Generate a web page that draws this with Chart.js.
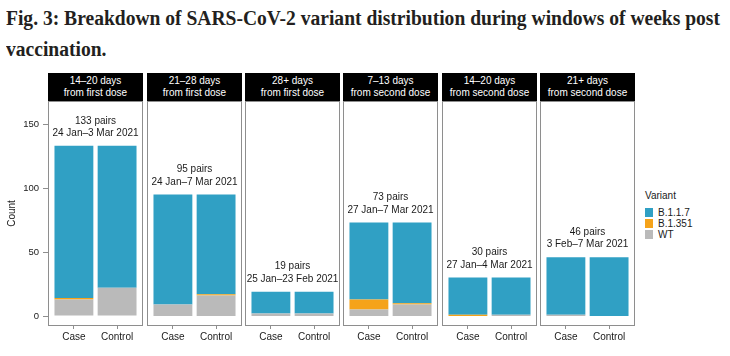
<!DOCTYPE html>
<html><head><meta charset="utf-8">
<script src="https://cdn.jsdelivr.net/npm/chart.js@4"></script>
<style>
body{margin:0;background:#fff;width:730px;height:356px;overflow:hidden;position:relative;font-family:"Liberation Sans",Arial,sans-serif;color:#1a1a1a;}
#title{position:absolute;left:6px;top:3px;font-weight:bold;font-size:20px;line-height:31px;font-family:"Liberation Serif",serif;color:#231f20;white-space:nowrap;transform-origin:0 0;}
.strip{position:absolute;top:73px;height:28px;background:#000;color:#fff;font-size:10px;line-height:12px;text-align:center;box-sizing:border-box;padding-top:2px;}
canvas{position:absolute;top:101px;}
#legend{position:absolute;left:645px;top:190px;font-size:10px;line-height:12px;color:#1a1a1a;}
.li{position:relative;height:11px;line-height:11px;padding-left:13px;}
.sw{position:absolute;left:0;top:1px;width:8px;height:9px;}
</style></head><body>
<div id="title"><span id="t1">Fig. 3: Breakdown of SARS-CoV-2 variant distribution during windows of weeks post</span><br>vaccination.</div>
<div id="legend"><div style="margin-bottom:5px">Variant</div></div>
<script>
const facetLine1 = ['14–20 days','21–28 days','28+ days','7–13 days','14–20 days','21+ days'];
const facetLine2 = ['from first dose','from first dose','from first dose','from second dose','from second dose','from second dose'];
const pairLabels = ['133 pairs','95 pairs','19 pairs','73 pairs','30 pairs','46 pairs'];
const dateLabels = ['24 Jan–3 Mar 2021','24 Jan–7 Mar 2021','25 Jan–23 Feb 2021','27 Jan–7 Mar 2021','27 Jan–4 Mar 2021','3 Feb–7 Mar 2021'];
const groups = ['Case','Control'];
// per facet: [Case, Control]
const wt    = [[13,22],[9,16],[2,2],[5,9],[0,1],[1,0]];
const b1351 = [[1,0],[0,1],[0,0],[8,1],[1,0],[0,0]];
const b117  = [[119,111],[86,78],[17,17],[60,63],[29,29],[45,46]];
const variantNames = ['B.1.1.7','B.1.351','WT'];
const yTicks = [0,50,100,150];

const colors = {'B.1.1.7':'#30a0c4','B.1.351':'#f5a31a','WT':'#bababa'};
const FONT = '"Liberation Sans", Arial, sans-serif';
const panelLeft = [48,147,245,343,442,540];
const panelW = 95;

// title fit
const t1 = document.getElementById('t1');
const w = t1.getBoundingClientRect().width;
document.getElementById('title').style.transform = 'scaleX(' + (714 / w) + ')';

// legend
const leg = document.getElementById('legend');
variantNames.forEach(n => {
  const d = document.createElement('div'); d.className = 'li';
  d.innerHTML = '<span class="sw" style="background:' + colors[n] + '"></span>' + n;
  leg.appendChild(d);
});

const frame = {
  id: 'frame',
  afterDatasetsDraw(chart, args, opts) {
    const {ctx, chartArea: a, scales} = chart;
    ctx.save();
    ctx.strokeStyle = '#8e8e8e'; ctx.lineWidth = 1;
    ctx.strokeRect(a.left + 0.5, a.top + 0.5, a.right - a.left - 1, a.bottom - a.top - 1);
    const k = opts.k;
    const total = Math.max(wt[k][0] + b1351[k][0] + b117[k][0], wt[k][1] + b1351[k][1] + b117[k][1]);
    const x = scales.x.getPixelForValue(1.5);
    const y = scales.y.getPixelForValue(total);
    ctx.fillStyle = '#1a1a1a';
    ctx.font = '10px ' + FONT;
    ctx.textAlign = 'center'; ctx.textBaseline = 'middle';
    ctx.fillText(pairLabels[k], x, y - 25);
    ctx.fillText(dateLabels[k], x, y - 12.6);
    ctx.restore();
  }
};

for (let k = 0; k < 6; k++) {
  const strip = document.createElement('div');
  strip.className = 'strip';
  strip.style.left = panelLeft[k] + 'px';
  strip.style.width = panelW + 'px';
  strip.innerHTML = facetLine1[k] + '<br>' + facetLine2[k];
  document.body.appendChild(strip);

  const first = k === 0;
  const cv = document.createElement('canvas');
  const cw = first ? panelLeft[0] + panelW : panelW;
  cv.width = cw; cv.height = 255;
  cv.style.left = (first ? 0 : panelLeft[k]) + 'px';
  cv.style.width = cw + 'px'; cv.style.height = '255px';
  document.body.appendChild(cv);

  const mk = (name, arr) => ({
    label: name,
    data: groups.map((g, i) => ({x: i + 1, y: arr[k][i]})),
    backgroundColor: colors[name],
    borderWidth: 0,
    barPercentage: 0.9,
    categoryPercentage: 1
  });

  new Chart(cv, {
    type: 'bar',
    data: { datasets: [mk('WT', wt), mk('B.1.351', b1351), mk('B.1.1.7', b117)] },
    options: {
      responsive: false, animation: false,
      layout: { padding: 0 },
      plugins: { legend: {display: false}, tooltip: {enabled: false}, frame: {k} },
      scales: {
        x: {
          type: 'linear', stacked: true, min: 0.4, max: 2.6, offset: false,
          afterBuildTicks: s => { s.ticks = [{value: 1}, {value: 2}]; },
          afterFit: s => { s.height = 30; s.paddingLeft = 0; s.paddingRight = 0; },
          grid: { drawOnChartArea: false, tickLength: 3, color: '#8e8e8e', offset: false },
          border: { display: false },
          ticks: { callback: v => groups[v - 1], font: {size: 10, family: FONT}, color: '#1a1a1a', padding: 2, maxRotation: 0, autoSkip: false }
        },
        y: {
          display: first, stacked: true, min: -7.8, max: 168,
          afterBuildTicks: s => { s.ticks = yTicks.map(v => ({value: v})); },
          afterFit: s => { s.width = first ? panelLeft[0] : 0; s.paddingTop = 0; s.paddingBottom = 0; },
          grid: { drawOnChartArea: false, tickLength: 5, color: '#8e8e8e' },
          border: { display: false },
          title: { display: true, text: 'Count', font: {size: 10, family: FONT}, color: '#1a1a1a', padding: {top: 6, bottom: 0} },
          ticks: { font: {size: 9.5, family: FONT}, color: '#1a1a1a', padding: 4 }
        }
      }
    },
    plugins: [frame]
  });
}
</script>
</body></html>
